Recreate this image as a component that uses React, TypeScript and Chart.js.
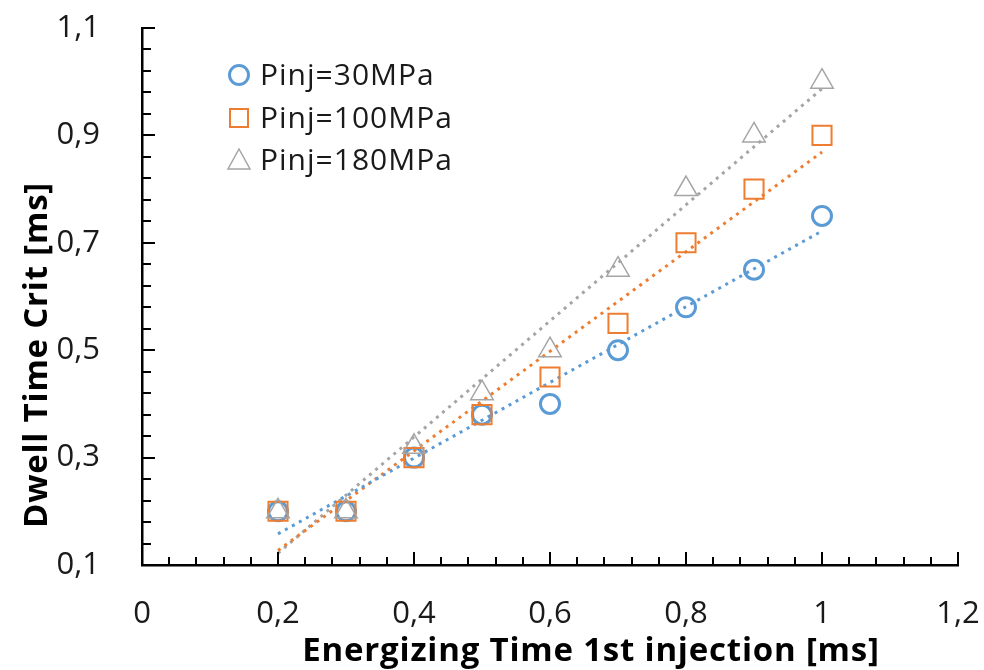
import React, { useEffect, useRef } from "react";
import { Chart, registerables } from "chart.js";

Chart.register(...registerables);

// ---- data ----
const energizingTime = [0.2, 0.3, 0.4, 0.5, 0.6, 0.7, 0.8, 0.9, 1.0];
const dwell30 = [0.2, 0.2, 0.3, 0.38, 0.4, 0.5, 0.58, 0.65, 0.75];
const dwell100 = [0.2, 0.2, 0.3, 0.38, 0.45, 0.55, 0.7, 0.8, 0.9];
const dwell180 = [0.2, 0.2, 0.32, 0.42, 0.5, 0.65, 0.8, 0.9, 1.0];
const trendX = [0.2, 1.0];
const trend30 = [0.158, 0.722];
const trend100 = [0.127, 0.869];
const trend180 = [0.122, 0.987];
const seriesLabels = ["Pinj=30MPa", "Pinj=100MPa", "Pinj=180MPa"];
const xTitle = "Energizing Time 1st injection [ms]";
const yTitle = "Dwell Time Crit [ms]";

const BLUE = "#5B9BD5";
const ORANGE = "#ED7D31";
const GRAY = "#A5A5A5";
const FONT = "'Open Sans', sans-serif";

const fmt = (v: number) => String(Math.round(v * 100) / 100).replace(".", ",");

const toPoints = (xs: number[], ys: number[]) => xs.map((x, i) => ({ x, y: ys[i] }));

const decorPlugin = {
  id: "decor",
  afterDraw(chart: any) {
    const ctx = chart.ctx as CanvasRenderingContext2D;
    const xs = chart.scales.x;
    const ys = chart.scales.y;
    const area = chart.chartArea;
    ctx.save();
    // inside tick marks
    ctx.strokeStyle = "#000";
    ctx.lineWidth = 2;
    ctx.beginPath();
    for (let i = 1; i <= 30; i++) {
      const v = i * 0.04;
      const px = Math.round(xs.getPixelForValue(v));
      const len = i % 5 === 0 ? 13 : 8;
      ctx.moveTo(px, area.bottom);
      ctx.lineTo(px, area.bottom - len);
    }
    for (let i = 1; i <= 25; i++) {
      const v = 0.1 + i * 0.04;
      const py = Math.round(ys.getPixelForValue(v));
      const len = i % 5 === 0 ? 13 : 9;
      ctx.moveTo(area.left, py);
      ctx.lineTo(area.left + len, py);
    }
    ctx.stroke();

    // axis titles
    ctx.fillStyle = "#000";
    ctx.font = `bold 33px ${FONT}`;
    (ctx as any).letterSpacing = "0.8px";
    ctx.textAlign = "center";
    ctx.textBaseline = "alphabetic";
    ctx.fillText(xTitle, 591, 661);
    ctx.save();
    ctx.translate(47, 355);
    ctx.rotate(-Math.PI / 2);
    ctx.fillText(yTitle, 0, 0);
    ctx.restore();

    // legend
    const rows = [75, 118, 160];
    const mx = 239;
    ctx.font = `30px ${FONT}`;
    (ctx as any).letterSpacing = "1px";
    ctx.textAlign = "left";
    ctx.textBaseline = "middle";
    chart.data.datasets.slice(0, 3).forEach((ds: any, i: number) => {
      const y = rows[i];
      ctx.strokeStyle = ds.borderColor;
      ctx.lineWidth = ds.borderWidth;
      ctx.beginPath();
      if (ds.pointStyle === "circle") {
        ctx.arc(mx, y, 9.5, 0, Math.PI * 2);
      } else if (ds.pointStyle === "rect") {
        ctx.rect(mx - 9, y - 9, 18, 18);
      } else {
        ctx.moveTo(mx, y - 11);
        ctx.lineTo(mx + 11, y + 9);
        ctx.lineTo(mx - 11, y + 9);
        ctx.closePath();
      }
      ctx.stroke();
      ctx.fillStyle = "#1a1a1a";
      ctx.fillText(ds.label, 260, y + 1);
    });
    (ctx as any).letterSpacing = "0px";
    ctx.restore();
  },
};

export default function App() {
  const ref = useRef<HTMLCanvasElement | null>(null);
  useEffect(() => {
    if (!ref.current) return;
    const trendCommon = {
      type: "line" as const,
      showLine: true,
      pointRadius: 0,
      pointHoverRadius: 0,
      borderWidth: 3,
      borderDash: [3, 5],
      fill: false,
      order: 10,
    };
    const chart = new Chart(ref.current, {
      type: "scatter",
      data: {
        datasets: [
          {
            label: seriesLabels[0],
            data: toPoints(energizingTime, dwell30),
            pointStyle: "circle",
            radius: 9.5,
            borderColor: BLUE,
            backgroundColor: "rgba(0,0,0,0)",
            borderWidth: 3,
            order: 3,
          } as any,
          {
            label: seriesLabels[1],
            data: toPoints(energizingTime, dwell100),
            pointStyle: "rect",
            radius: 13.5,
            borderColor: ORANGE,
            backgroundColor: "rgba(0,0,0,0)",
            borderWidth: 2,
            order: 2,
          } as any,
          {
            label: seriesLabels[2],
            data: toPoints(energizingTime, dwell180),
            pointStyle: "triangle",
            radius: 13,
            borderColor: GRAY,
            backgroundColor: "rgba(0,0,0,0)",
            borderWidth: 1.5,
            order: 1,
          } as any,
          { ...trendCommon, label: "trend 30", data: toPoints(trendX, trend30), borderColor: BLUE } as any,
          { ...trendCommon, label: "trend 100", data: toPoints(trendX, trend100), borderColor: ORANGE } as any,
          { ...trendCommon, label: "trend 180", data: toPoints(trendX, trend180), borderColor: GRAY } as any,
        ],
      },
      options: {
        animation: false,
        responsive: false,
        maintainAspectRatio: false,
        layout: { padding: { left: 0, right: 26, top: 28, bottom: 0 } },
        plugins: {
          legend: { display: false },
          tooltip: { enabled: false },
        },
        scales: {
          x: {
            type: "linear",
            min: 0,
            max: 1.2,
            grid: { display: false },
            border: { display: true, color: "#000", width: 2.5 },
            ticks: {
              stepSize: 0.2,
              color: "#1a1a1a",
              font: { family: FONT, size: 31 },
              padding: 23,
              maxRotation: 0,
              callback: (v: any) => fmt(Number(v)),
            },
            afterFit: (s: any) => {
              s.height = 105;
              s.paddingLeft = 0;
              s.paddingRight = 0;
            },
          },
          y: {
            type: "linear",
            min: 0.1,
            max: 1.1,
            grid: { display: false },
            border: { display: true, color: "#000", width: 2.5 },
            ticks: {
              stepSize: 0.2,
              color: "#1a1a1a",
              font: { family: FONT, size: 31 },
              padding: 34,
              callback: (v: any) => fmt(Number(v)),
            },
            afterFit: (s: any) => {
              s.width = 142;
              s.paddingTop = 0;
              s.paddingBottom = 0;
            },
          },
        },
      },
      plugins: [decorPlugin],
    });
    return () => chart.destroy();
  }, []);
  return (
    <div style={{ position: "absolute", left: 0, top: 0, width: 984, height: 670, background: "#fff" }}>
      <canvas ref={ref} width={984} height={670} style={{ width: 984, height: 670, display: "block" }} />
    </div>
  );
}
